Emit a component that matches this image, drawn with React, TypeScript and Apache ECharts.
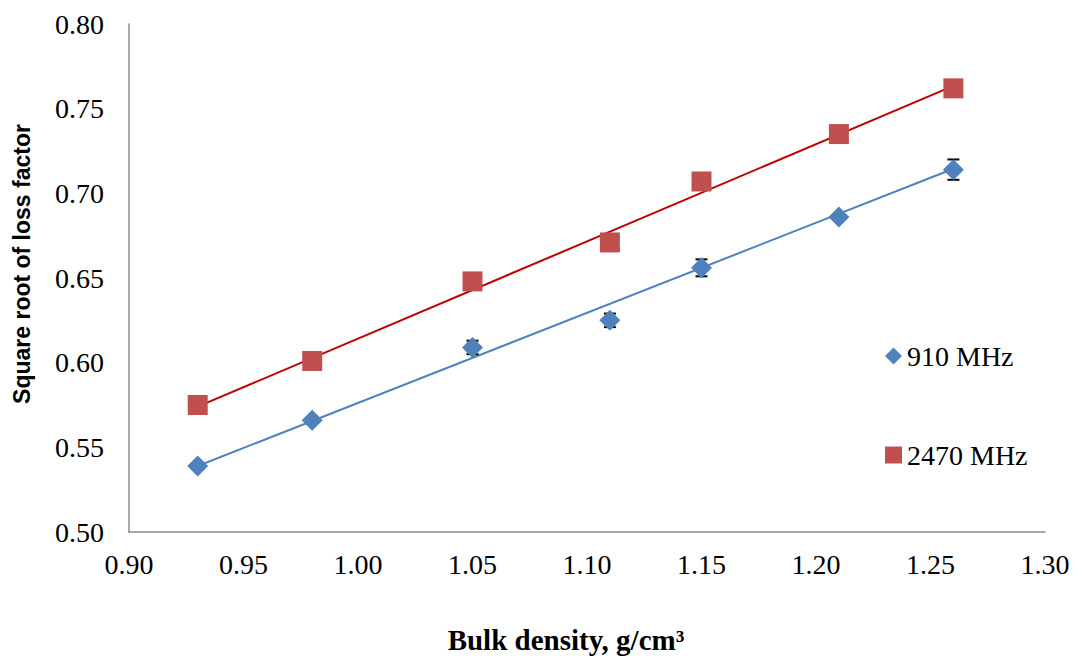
import React, { useEffect, useRef } from "react";
import * as echarts from "echarts";

const densities = [0.93, 0.98, 1.05, 1.11, 1.15, 1.21, 1.26];
const values910 = [0.539, 0.566, 0.609, 0.625, 0.656, 0.686, 0.714];
const errors910 = [0, 0, 0.004, 0.004, 0.005, 0, 0.006];
const values2470 = [0.575, 0.601, 0.648, 0.671, 0.707, 0.735, 0.762];
const trend910 = [[0.93, 0.539], [1.26, 0.7145]];
const trend2470 = [[0.93, 0.574], [1.26, 0.7635]];
const xTicks = { min: 0.9, max: 1.3, interval: 0.05 };
const yTicks = { min: 0.5, max: 0.8, interval: 0.05 };

const BLUE = "#4F81BD";
const RED = "#C0504D";

export default function App() {
  const ref = useRef<HTMLDivElement>(null);
  useEffect(() => {
    const chart = echarts.init(ref.current!, undefined, { renderer: "svg" });
    const errData = densities
      .map((d, i) => [d, values910[i] - errors910[i], values910[i] + errors910[i], errors910[i]])
      .filter((r) => r[3] > 0);
    chart.setOption({
      animation: false,
      grid: { left: 121, right: 35, top: 16, bottom: 128 },
      graphic: [
        {
          type: "text",
          x: 558,
          y: 632,
          style: {
            text: "Bulk density, g/cm³",
            font: "bold 29px 'Liberation Serif'",
            fill: "#000",
            textAlign: "center",
            textVerticalAlign: "middle",
          },
        },
        {
          type: "text",
          x: 14,
          y: 256,
          rotation: Math.PI / 2,
          style: {
            text: "Square root of loss factor",
            font: "bold 23px 'Liberation Sans'",
            fill: "#000",
            textAlign: "center",
            textVerticalAlign: "middle",
          },
        },
      ],
      xAxis: {
        type: "value",
        min: xTicks.min,
        max: xTicks.max,
        interval: xTicks.interval,
        axisLine: { show: true, lineStyle: { color: "#8c8c8c", width: 1.5 } },
        axisTick: { show: false },
        splitLine: { show: false },
        axisLabel: {
          formatter: (v: number) => v.toFixed(2),
          fontFamily: "Liberation Serif",
          fontSize: 28,
          color: "#000",
          margin: 18,
        },
      },
      yAxis: {
        type: "value",
        min: yTicks.min,
        max: yTicks.max,
        interval: yTicks.interval,
        axisLine: { show: true, lineStyle: { color: "#8c8c8c", width: 1.5 } },
        axisTick: { show: false },
        splitLine: { show: false },
        axisLabel: {
          formatter: (v: number) => v.toFixed(2),
          fontFamily: "Liberation Serif",
          fontSize: 28,
          color: "#000",
          margin: 25,
        },
      },
      legend: {
        orient: "vertical",
        left: 872,
        top: 329,
        itemGap: 71,
        itemWidth: 17,
        itemHeight: 17,
        textStyle: { fontFamily: "Liberation Serif", fontSize: 28, color: "#000" },
        data: [
          { name: "910 MHz", icon: "diamond", itemStyle: { color: BLUE } },
          { name: "2470 MHz", icon: "rect", itemStyle: { color: RED } },
        ],
      },
      series: [
        {
          type: "line",
          data: trend2470,
          symbol: "none",
          lineStyle: { color: "#C00000", width: 2 },
          z: 1,
          silent: true,
        },
        {
          type: "line",
          data: trend910,
          symbol: "none",
          lineStyle: { color: BLUE, width: 2 },
          z: 1,
          silent: true,
        },
        {
          type: "custom",
          z: 2,
          data: errData,
          renderItem: (params: any, api: any) => {
            const x = api.value(0);
            const lo = api.coord([x, api.value(1)]);
            const hi = api.coord([x, api.value(2)]);
            const w = 6;
            const s = { stroke: "#000", lineWidth: 2 };
            return {
              type: "group",
              children: [
                { type: "line", shape: { x1: lo[0], y1: lo[1], x2: hi[0], y2: hi[1] }, style: s },
                { type: "line", shape: { x1: lo[0] - w, y1: lo[1], x2: lo[0] + w, y2: lo[1] }, style: s },
                { type: "line", shape: { x1: hi[0] - w, y1: hi[1], x2: hi[0] + w, y2: hi[1] }, style: s },
              ],
            };
          },
        },
        {
          name: "910 MHz",
          type: "scatter",
          data: densities.map((d, i) => [d, values910[i]]),
          symbol: "diamond",
          symbolSize: 21,
          itemStyle: { color: BLUE, opacity: 1 },
          z: 3,
        },
        {
          name: "2470 MHz",
          type: "scatter",
          data: densities.map((d, i) => [d, values2470[i]]),
          symbol: "rect",
          symbolSize: 20,
          itemStyle: { color: RED, opacity: 1 },
          z: 3,
        },
      ],
    });
    return () => chart.dispose();
  }, []);
  return <div ref={ref} style={{ width: 1072, height: 652 }} />;
}
